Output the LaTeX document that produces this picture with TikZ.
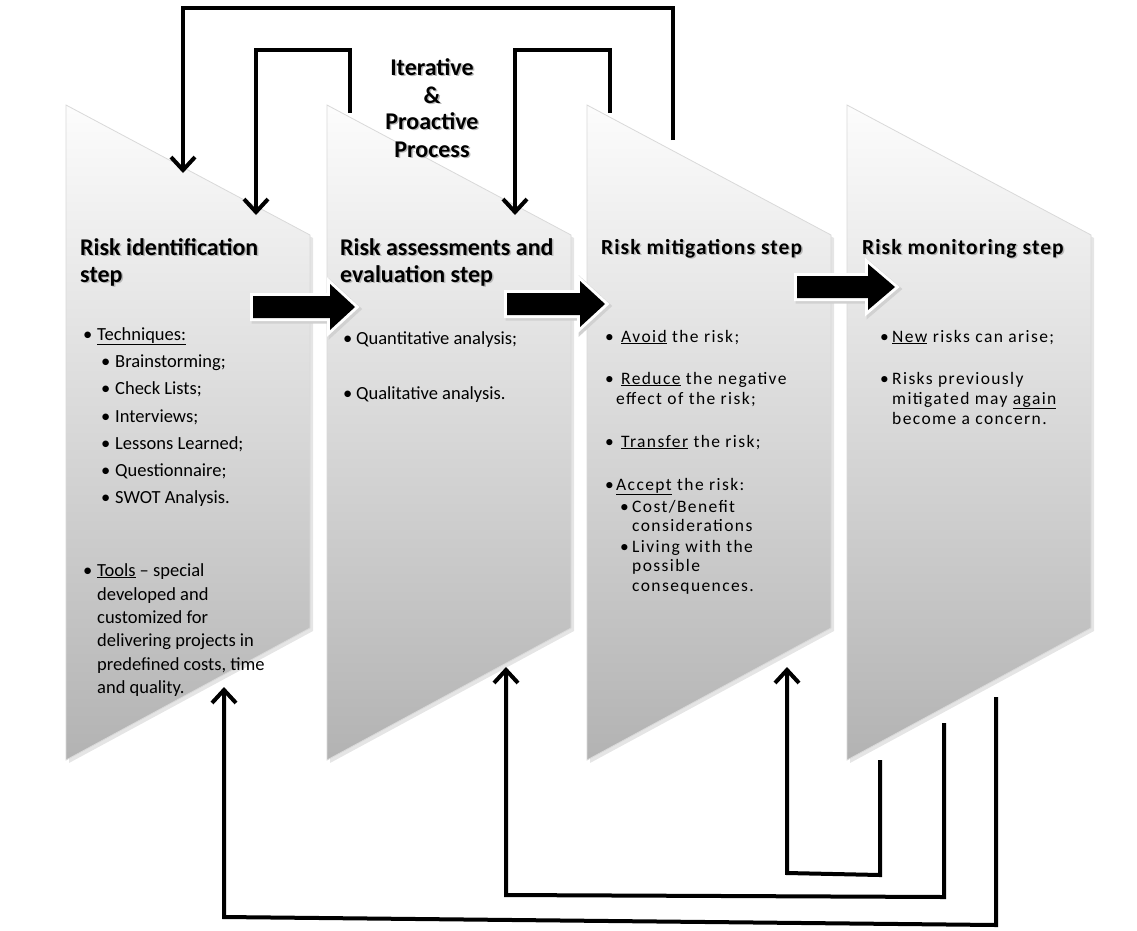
\documentclass[tikz,border=0pt]{standalone}
\usepackage{fontspec}
\setmainfont{Carlito}
\usetikzlibrary{arrows.meta}
\tikzset{
  panel/.style={top color=black!1, bottom color=black!30, draw=black!15, line width=0.8pt},
  pshadow/.style={fill=black, opacity=0.10},
  fb/.style={line width=4pt, line join=miter, draw=black},
  fbarrow/.style={fb, -{Straight Barb[length=13pt,width=24pt]}},
  ttl/.style={anchor=base west, inner sep=0, font=\fontsize{24}{27}\selectfont\bfseries},
  ttlb/.style={anchor=base west, inner sep=0, font=\fontsize{21.5}{24}\selectfont\bfseries\addfontfeature{LetterSpace=5}},
  mid/.style={anchor=base, inner sep=0, font=\fontsize{24}{27}\selectfont\bfseries},
  tsh/.style={text=black!28},
  ba/.style={anchor=base west, inner sep=0, font=\fontsize{18.5}{22}\selectfont},
  bb/.style={anchor=base west, inner sep=0, font=\fontsize{17.5}{20}\selectfont\addfontfeature{LetterSpace=8}},
  blkout/.style={draw=white, line width=6pt, line join=miter},
  blksh/.style={draw=black!18, line width=7pt, line join=miter},
}
\newcommand\blockarrow[5]{% name, tail x, tip x, head base x, center y
  \path[blksh] ({#2+2},{#5-11+2}) -- ({#4+2},{#5-11+2}) -- ({#4+2},{#5-23+2}) -- ({#3+2},{#5+2}) -- ({#4+2},{#5+23+2}) -- ({#4+2},{#5+11+2}) -- ({#2+2},{#5+11+2}) -- cycle;
  \path[blkout] (#2,{#5-11}) -- (#4,{#5-11}) -- (#4,{#5-23}) -- (#3,#5) -- (#4,{#5+23}) -- (#4,{#5+11}) -- (#2,{#5+11}) -- cycle;
  \fill[black] (#2,{#5-11}) -- (#4,{#5-11}) -- (#4,{#5-23}) -- (#3,#5) -- (#4,{#5+23}) -- (#4,{#5+11}) -- (#2,{#5+11}) -- cycle;
  \coordinate (#1) at ({(#2+#3)/2},#5);
}
\newcommand\shtitle[5]{% name, style, x, y, text
  \node[#2, tsh] (#1s) at ({#3+1.5},{#4+1.8}) {#5};
  \node[#2] (#1) at (#3,#4) {#5};
}
\begin{document}
\begin{tikzpicture}[x=1pt,y=-1pt]
\useasboundingbox[fill=white] (0,0) rectangle (1137,930);
% panels
\foreach \px/\nm in {66/p1,327/p2,587/p3,847/p4}{
  \fill[pshadow] ({\px+3},108) -- ({\px+247},238) -- ({\px+247},631) -- ({\px+3},763) -- cycle;
  \path[panel] (\px,105) -- ({\px+244},235) -- ({\px+244},628) -- (\px,760) -- cycle;
}
% titles
\shtitle{t1a}{ttl}{80}{255}{Risk identification}
\shtitle{t1b}{ttl}{80}{282}{step}
\shtitle{t2a}{ttl}{340}{255}{Risk assessments and}
\shtitle{t2b}{ttl}{340}{282}{evaluation step}
\shtitle{t3a}{ttlb}{601}{254}{Risk mitigations step}
\shtitle{t4a}{ttlb}{862}{254}{Risk monitoring step}
\shtitle{m1}{mid}{432}{75}{Iterative}
\shtitle{m2}{mid}{432}{103}{\&}
\shtitle{m3}{mid}{432}{129}{Proactive}
\shtitle{m4}{mid}{432}{157}{Process}
% panel 1 body
\node[ba] (a0b) at (83,340) {\textbullet};
\node[ba] (a0)  at (97,340) {\underline{Techniques:}};
\foreach \yy/\tx/\nm in {367/Brainstorming;/a1, 394/Check Lists;/a2, 422/Interviews;/a3, 449/Lessons Learned;/a4, 476/Questionnaire;/a5, 503/SWOT Analysis./a6}{
  \node[ba] (\nm b) at (101,\yy) {\textbullet};
  \node[ba] (\nm) at (115,\yy) {\tx};
}
\node[ba] (a7b) at (83,576) {\textbullet};
\node[ba] (a7) at (97,576) {\underline{Tools} -- special};
\node[ba] (a8) at (97,600) {developed and};
\node[ba] (a9) at (97,623) {customized for};
\node[ba] (a10) at (97,646) {delivering projects in};
\node[ba] (a11) at (97,670) {predefined costs, time};
\node[ba] (a12) at (97,693) {and quality.};
% panel 2 body
\node[ba] (q1b) at (343,344) {\textbullet};
\node[ba] (q1) at (356,344) {Quantitative analysis;};
\node[ba] (q2b) at (343,399) {\textbullet};
\node[ba] (q2) at (356,399) {Qualitative analysis.};
% panel 3 body
\node[bb] (r1b) at (605,342) {\textbullet};
\node[bb] (r1) at (621,342) {\underline{Avoid} the risk;};
\node[bb] (r2b) at (605,384) {\textbullet};
\node[bb] (r2) at (621,384) {\underline{Reduce} the negative};
\node[bb] (r3) at (616,404) {effect of the risk;};
\node[bb] (r4b) at (605,447) {\textbullet};
\node[bb] (r4) at (621,447) {\underline{Transfer} the risk;};
\node[bb] (r5b) at (605,490) {\textbullet};
\node[bb] (r5) at (616,490) {\underline{Accept} the risk:};
\node[bb] (r6b) at (620,512) {\textbullet};
\node[bb] (r6) at (632,512) {Cost/Benefit};
\node[bb] (r7) at (632,531) {considerations};
\node[bb] (r8b) at (620,552) {\textbullet};
\node[bb] (r8) at (632,552) {Living with the};
\node[bb] (r9) at (632,571) {possible};
\node[bb] (r10) at (632,591) {consequences.};
% panel 4 body
\node[bb] (s1b) at (880,342) {\textbullet};
\node[bb] (s1) at (892,342) {\underline{New} risks can arise;};
\node[bb] (s2b) at (880,384) {\textbullet};
\node[bb] (s2) at (892,384) {Risks previously};
\node[bb] (s3) at (892,404) {mitigated may \underline{again}};
\node[bb] (s4) at (892,424) {become a concern.};
% block arrows
\blockarrow{ba1}{253}{355}{330}{307}
\blockarrow{ba2}{507}{605}{580}{304}
\blockarrow{ba3}{797}{895}{868}{287}
% feedback connectors (top)
\coordinate (o1) at (673,140); \coordinate (otop) at (430,8); \coordinate (o2) at (183,173);
\draw[fbarrow] (o1) |- (otop) -| (o2);
\coordinate (i1) at (350,113); \coordinate (itop) at (300,50); \coordinate (i2) at (256,215);
\draw[fbarrow] (i1) |- (itop) -| (i2);
\coordinate (j1) at (610,113); \coordinate (jtop) at (560,50); \coordinate (j2) at (515,215);
\draw[fbarrow] (j1) |- (jtop) -| (j2);
% feedback connectors (bottom)
\coordinate (k1) at (996,697); \coordinate (k1a) at (996,925); \coordinate (k1b) at (224,917); \coordinate (k2) at (224,687);
\draw[fbarrow] (k1) -- (k1a) -- (k1b) -- (k2);
\coordinate (l1) at (944,723); \coordinate (l1a) at (944,897); \coordinate (l1b) at (506,895); \coordinate (l2) at (506,667);
\draw[fbarrow] (l1) -- (l1a) -- (l1b) -- (l2);
\coordinate (n1) at (880,760); \coordinate (n1a) at (880,875); \coordinate (n1b) at (787,873); \coordinate (n2) at (787,667);
\draw[fbarrow] (n1) -- (n1a) -- (n1b) -- (n2);
\end{tikzpicture}
\end{document}
